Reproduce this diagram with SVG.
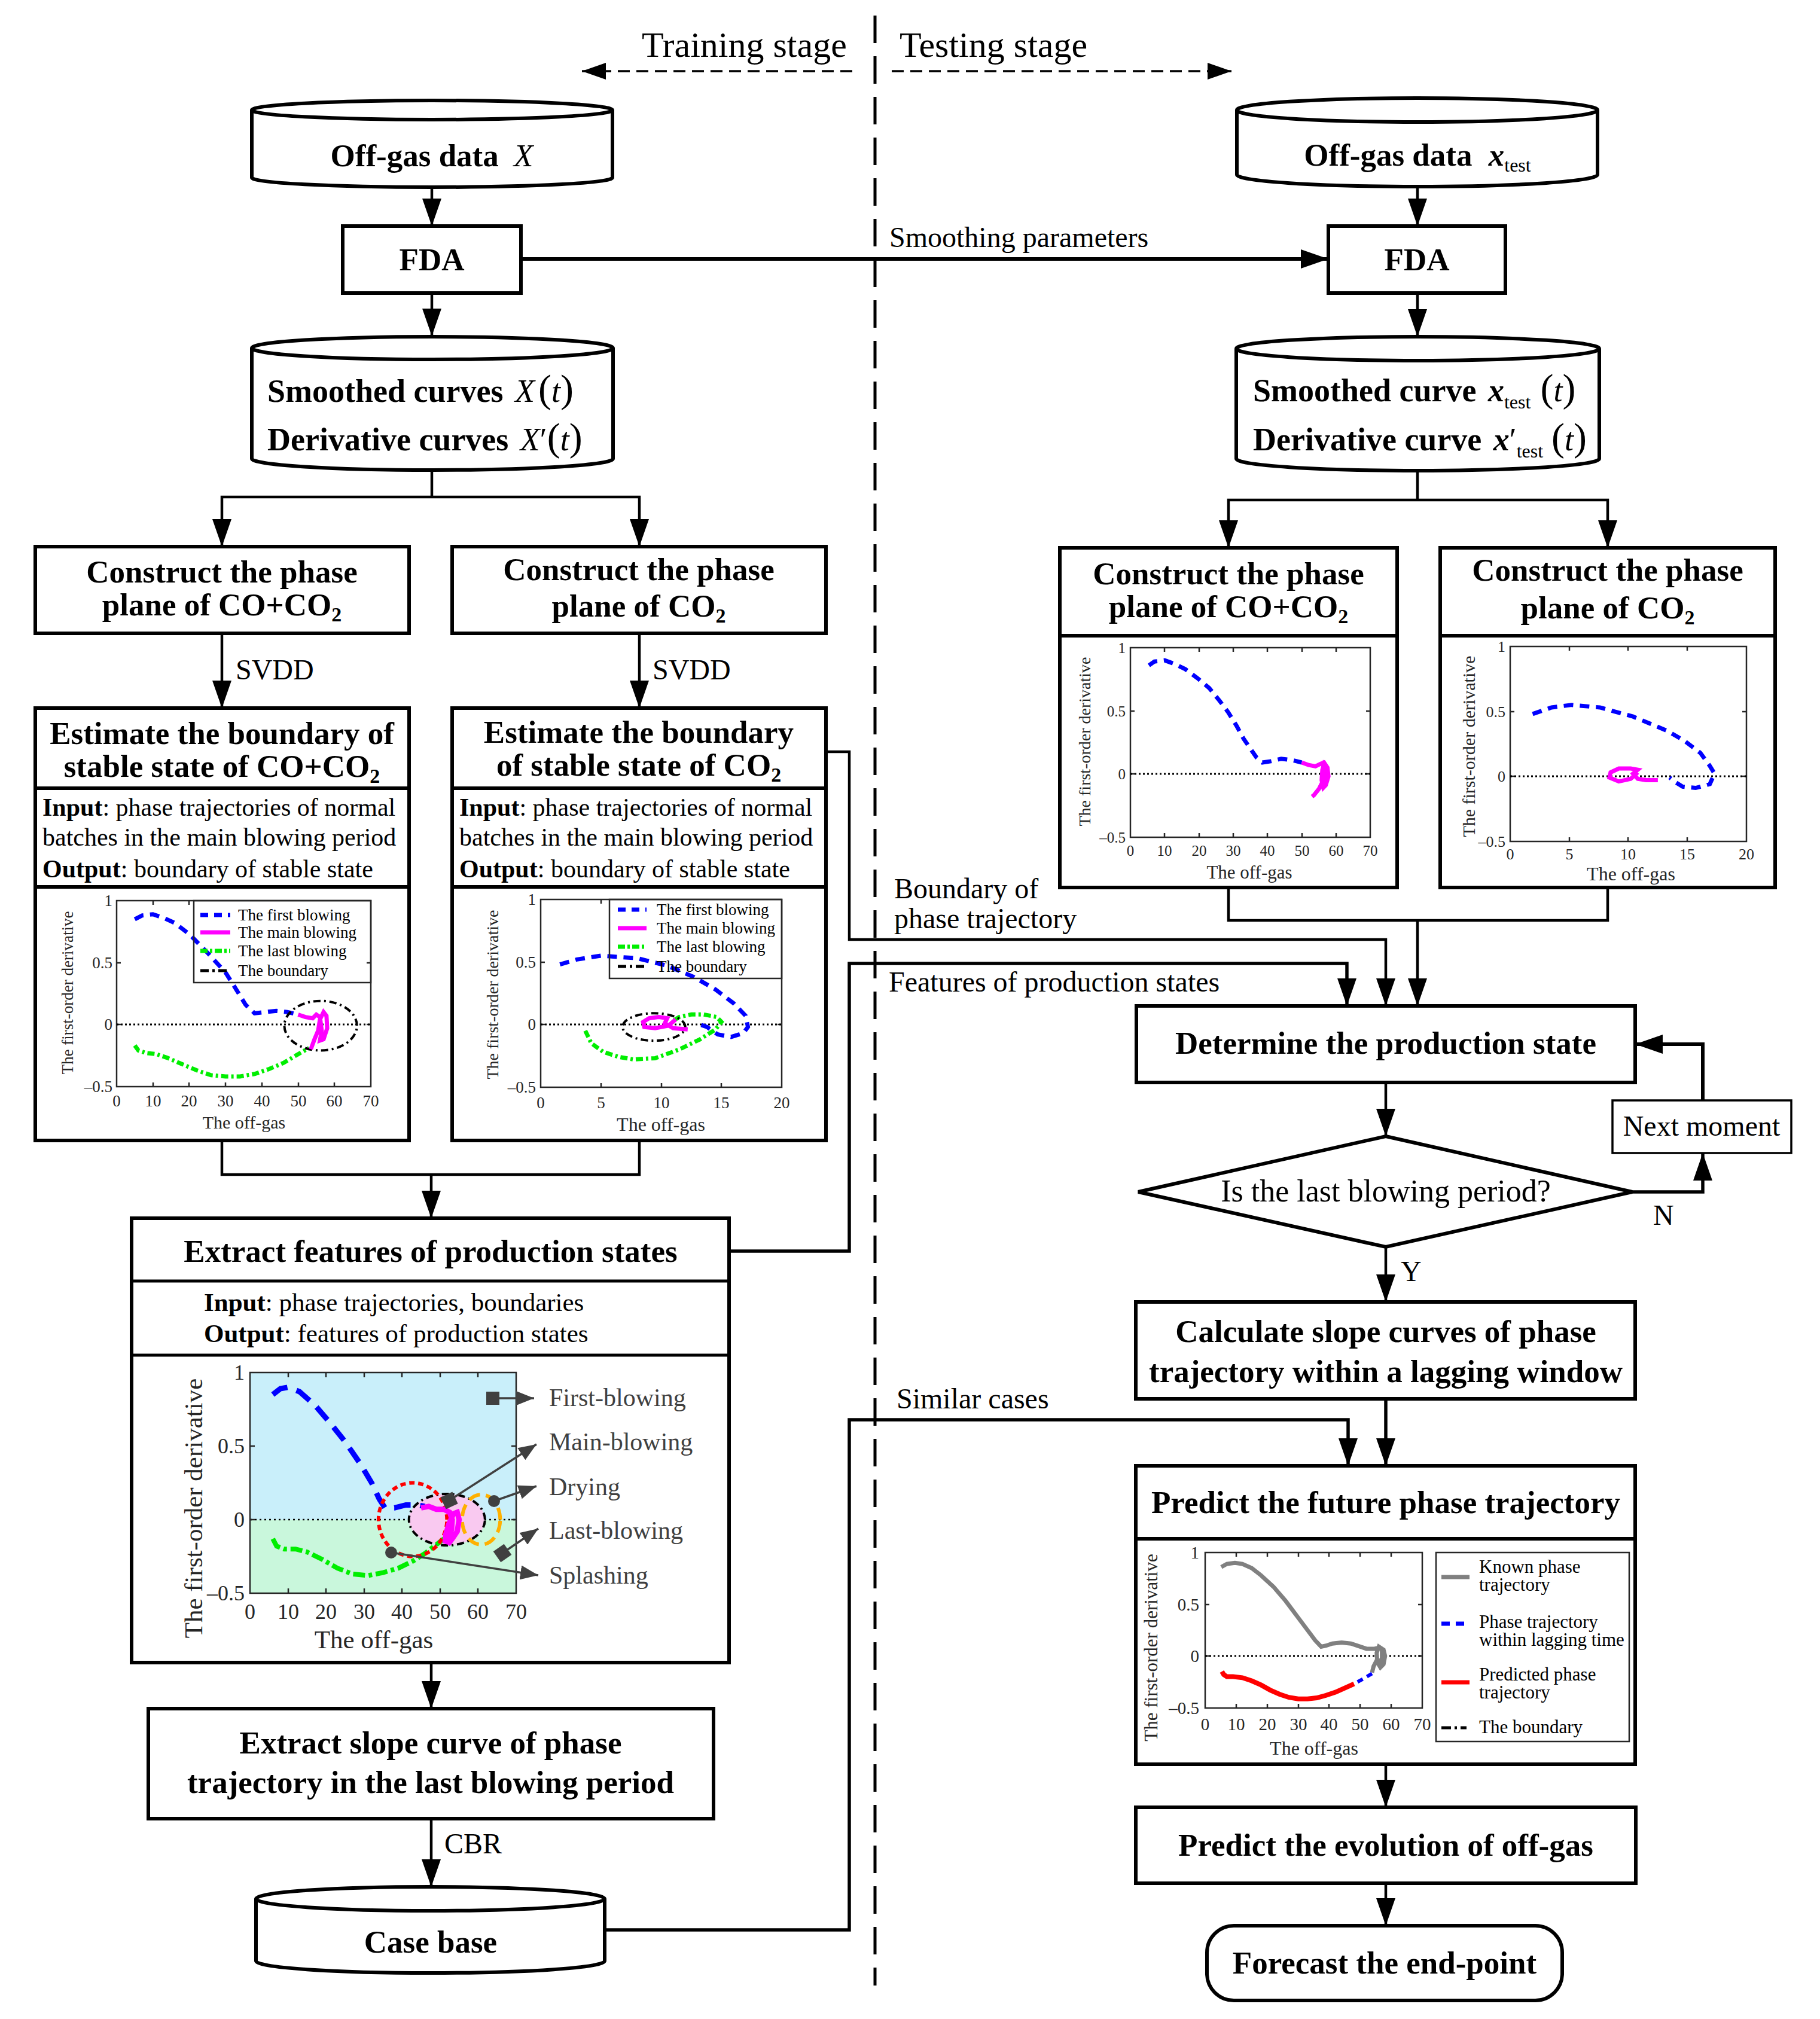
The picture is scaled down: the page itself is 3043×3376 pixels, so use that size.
<svg xmlns="http://www.w3.org/2000/svg" width="3043" height="3376" viewBox="0 0 3043 3376">
<style>
text{font-family:"Liberation Serif","Times New Roman",serif;fill:#000}
.nb{font-weight:bold;font-size:53px;text-anchor:middle}
.lb{font-size:48px}
.io{font-size:42px}
.box{fill:#fff;stroke:#000;stroke-width:6}
.cn{fill:none;stroke:#000;stroke-width:4.5}
.ax{fill:none;stroke:#262626;stroke-width:2.5}
.tk{fill:#262626;text-anchor:middle}
.tr{fill:#262626;text-anchor:end}
.zl{fill:none;stroke:#000;stroke-width:3;stroke-dasharray:3 4}
.plot *{vector-effect:non-scaling-stroke;fill:none}
.bl{stroke:#0000ff;stroke-width:7;stroke-dasharray:16 11}
.mg{stroke:#ff00ff;stroke-width:7}
.gr{stroke:#00ee00;stroke-width:7;stroke-dasharray:12 5 4 5}
.bd{stroke:#000;stroke-width:4;stroke-dasharray:12 6 3 6}
.ann{fill:none;stroke:#404040;stroke-width:3.5}
.at{font-size:42px;fill:#404040}
</style>
<defs>
<marker id="ah" markerUnits="userSpaceOnUse" markerWidth="46" markerHeight="32" refX="46" refY="16" orient="auto-start-reverse"><path d="M0,0 L46,16 L0,32 Z" fill="#000"/></marker>
<marker id="ahs" markerUnits="userSpaceOnUse" markerWidth="40" markerHeight="28" refX="40" refY="14" orient="auto"><path d="M0,0 L40,14 L0,28 Z" fill="#000"/></marker>
<marker id="ahg" markerUnits="userSpaceOnUse" markerWidth="30" markerHeight="24" refX="30" refY="12" orient="auto"><path d="M0,0 L30,12 L0,24 Z" fill="#404040"/></marker>
</defs>

<g id="stages">
<line x1="1463" y1="26" x2="1463" y2="3320" stroke="#000" stroke-width="5" stroke-dasharray="46 22"/>
<text x="1073" y="95" font-size="60">Training stage</text>
<text x="1504" y="95" font-size="60">Testing stage</text>
<line x1="1425" y1="119" x2="973" y2="119" stroke="#000" stroke-width="3.5" stroke-dasharray="20 11" marker-end="url(#ahs)"/>
<line x1="1491" y1="119" x2="2059" y2="119" stroke="#000" stroke-width="3.5" stroke-dasharray="20 11" marker-end="url(#ahs)"/>
</g>

<g id="connectors" class="cn">
<path d="M722,313V378" marker-end="url(#ah)"/>
<path d="M722,490V562" marker-end="url(#ah)"/>
<path d="M722,785V831"/>
<path d="M371,914V831H1069V914" marker-start="url(#ah)" marker-end="url(#ah)"/>
<path d="M371,1059V1184" marker-end="url(#ah)"/>
<path d="M1069,1059V1184" marker-end="url(#ah)"/>
<path d="M371,1907V1964H1069V1907"/>
<path d="M721,1964V2037" marker-end="url(#ah)"/>
<path d="M721,2780V2857" marker-end="url(#ah)"/>
<path d="M721,3041V3155" marker-end="url(#ah)"/>
<path d="M871,433H2221" stroke-width="6" marker-end="url(#ah)"/>
<path d="M2370,312V378" marker-end="url(#ah)"/>
<path d="M2370,490V563" marker-end="url(#ah)"/>
<path d="M2370,787V836"/>
<path d="M2054,916V836H2688V916" marker-start="url(#ah)" marker-end="url(#ah)"/>
<path d="M2054,1484V1539H2688V1484"/>
<path d="M2370,1539V1682" marker-end="url(#ah)"/>
<path d="M1381,1257H1420V1571H2317V1682" marker-end="url(#ah)"/>
<path d="M1219,2092H1420V1611H2252V1682" stroke-width="5.5" marker-end="url(#ah)"/>
<path d="M2317,1810V1900" marker-end="url(#ah)"/>
<path d="M2729,1993H2847V1928" stroke-width="5.5" marker-end="url(#ah)"/>
<path d="M2847,1840V1746H2734" stroke-width="6" marker-end="url(#ah)"/>
<path d="M2317,2085V2177" marker-end="url(#ah)"/>
<path d="M2317,2339V2451" stroke-width="5.5" marker-end="url(#ah)"/>
<path d="M1011,3227H1420V2374H2254V2451" stroke-width="5.5" marker-end="url(#ah)"/>
<path d="M2317,2950V3022" marker-end="url(#ah)"/>
<path d="M2317,3149V3220" marker-end="url(#ah)"/>
</g>

<g id="connector-labels">
<text x="1487" y="413" class="lb">Smoothing parameters</text>
<text x="394" y="1136" class="lb">SVDD</text>
<text x="1091" y="1136" class="lb">SVDD</text>
<text x="743" y="3099" class="lb">CBR</text>
<text x="1495" y="1502" class="lb">Boundary of</text>
<text x="1495" y="1552" class="lb">phase trajectory</text>
<text x="1486" y="1658" class="lb">Features of production states</text>
<text x="1499" y="2355" class="lb">Similar cases</text>
<text x="2764" y="2048" class="lb">N</text>
<text x="2342" y="2142" class="lb">Y</text>
</g>

<g id="offgas-train">
<path d="M421,184 A301.5,16 0 0 1 1024,184 V297 A301.5,16 0 0 1 421,297 Z" class="box"/>
<path d="M421,184 A301.5,16 0 0 0 1024,184" fill="none" stroke="#000" stroke-width="6"/>
<text x="722" y="278" class="nb" font-size="54">Off-gas data <tspan dx="12" font-style="italic" font-weight="normal">X</tspan></text>
</g>
<g id="fda-train">
<rect x="573" y="378" width="298" height="112" class="box"/>
<text x="722" y="452" class="nb" font-size="54">FDA</text>
</g>
<g id="smoothed-train">
<path d="M421,582 A302,19 0 0 1 1025,582 V767 A302,19 0 0 1 421,767 Z" class="box"/>
<path d="M421,582 A302,19 0 0 0 1025,582" fill="none" stroke="#000" stroke-width="6"/>
<text x="447" y="672" font-weight="bold" font-size="54">Smoothed curves <tspan font-style="italic" font-weight="normal" dx="6">X</tspan><tspan font-weight="normal" font-size="66" dx="6">(</tspan><tspan font-style="italic" font-weight="normal">t</tspan><tspan font-weight="normal" font-size="66">)</tspan></text>
<text x="447" y="753" font-weight="bold" font-size="54">Derivative curves <tspan font-style="italic" font-weight="normal" dx="6">X</tspan><tspan font-weight="normal">′</tspan><tspan font-weight="normal" font-size="66">(</tspan><tspan font-style="italic" font-weight="normal">t</tspan><tspan font-weight="normal" font-size="66">)</tspan></text>
</g>
<g id="construct-cc-train">
<rect x="59" y="914" width="625" height="145" class="box"/>
<text x="371" y="974" class="nb">Construct the phase</text>
<text x="371" y="1029" class="nb">plane of CO+CO<tspan font-size="34" dy="10">2</tspan></text>
</g>
<g id="construct-c2-train">
<rect x="756" y="914" width="625" height="145" class="box"/>
<text x="1068" y="970" class="nb">Construct the phase</text>
<text x="1068" y="1031" class="nb">plane of CO<tspan font-size="34" dy="10">2</tspan></text>
</g>

<g id="estimate-cc">
<rect x="59" y="1184" width="625" height="723" class="box"/>
<path d="M59,1318H684M59,1483H684" stroke="#000" stroke-width="6"/>
<text x="371" y="1244" class="nb">Estimate the boundary of</text>
<text x="371" y="1299" class="nb">stable state of CO+CO<tspan font-size="34" dy="10">2</tspan></text>
<text x="71" y="1364" class="io"><tspan font-weight="bold">Input</tspan>: phase trajectories of normal</text>
<text x="71" y="1414" class="io">batches in the main blowing period</text>
<text x="71" y="1467" class="io"><tspan font-weight="bold">Output</tspan>: boundary of stable state</text>
<g id="chartA">
<rect x="195" y="1506" width="425" height="311" fill="#fff" class="ax"/>
<path d="M256,1817v-7M316,1817v-7M377,1817v-7M438,1817v-7M499,1817v-7M559,1817v-7M256,1506v7M316,1506v7M195,1610h7M195,1713h7M620,1610h-7M620,1713h-7" class="ax"/>
<line x1="195" y1="1713" x2="620" y2="1713" class="zl"/>
<g class="plot" transform="translate(195,1713) scale(6.07,-207)">
<polyline class="bl" points="5,0.85 7,0.88 10,0.89 13,0.86 16,0.82 20,0.73 25,0.58 30,0.42 33,0.28 35.5,0.16 38,0.09 41,0.1 44,0.11 47,0.1 50,0.08"/>
<polyline class="gr" points="5,-0.17 6,-0.21 8,-0.23 11,-0.24 14,-0.27 18,-0.32 22,-0.37 26,-0.41 30,-0.42 34,-0.42 38,-0.4 42,-0.36 46,-0.31 50,-0.24 53,-0.19"/>
<ellipse class="bd" cx="56.2" cy="-0.01" rx="10" ry="0.2"/>
<polyline class="mg" points="50,0.08 52,0.06 54,0.05 55,0.08 56,0.06 56.5,-0.05 56,-0.13 57,-0.12 58,-0.03 57.8,0.07 57,0.1 56,0.04 55.5,-0.05 54.5,-0.12 53.5,-0.2"/>
</g>
<rect x="324" y="1506" width="296" height="137" fill="#fff" class="ax"/>
<line x1="335" y1="1530" x2="385" y2="1530" stroke="#00f" stroke-width="7" stroke-dasharray="13 10"/>
<line x1="335" y1="1559" x2="385" y2="1559" stroke="#f0f" stroke-width="7"/>
<line x1="335" y1="1590" x2="385" y2="1590" stroke="#0e0" stroke-width="7" stroke-dasharray="12 4 4 4"/>
<line x1="335" y1="1623" x2="385" y2="1623" stroke="#000" stroke-width="5" stroke-dasharray="14 6 4 6"/>
<g font-size="27"><text x="398" y="1539">The first blowing</text><text x="398" y="1568">The main blowing</text><text x="398" y="1599">The last blowing</text><text x="398" y="1632">The boundary</text></g>
<g font-size="27"><text x="195" y="1850" class="tk">0</text><text x="256" y="1850" class="tk">10</text><text x="316" y="1850" class="tk">20</text><text x="377" y="1850" class="tk">30</text><text x="438" y="1850" class="tk">40</text><text x="499" y="1850" class="tk">50</text><text x="559" y="1850" class="tk">60</text><text x="620" y="1850" class="tk">70</text></g>
<g font-size="27"><text x="188" y="1515" class="tr">1</text><text x="188" y="1619" class="tr">0.5</text><text x="188" y="1722" class="tr">0</text><text x="188" y="1826" class="tr">–0.5</text></g>
<text x="408" y="1887" font-size="30" class="tk">The off-gas</text>
<text x="122" y="1660" font-size="27" class="tk" transform="rotate(-90 122 1660)">The first-order derivative</text>
</g>
</g>

<g id="estimate-c2">
<rect x="756" y="1184" width="625" height="723" class="box"/>
<path d="M756,1318H1381M756,1483H1381" stroke="#000" stroke-width="6"/>
<text x="1068" y="1242" class="nb">Estimate the boundary</text>
<text x="1068" y="1297" class="nb">of stable state of CO<tspan font-size="34" dy="10">2</tspan></text>
<text x="768" y="1364" class="io"><tspan font-weight="bold">Input</tspan>: phase trajectories of normal</text>
<text x="768" y="1414" class="io">batches in the main blowing period</text>
<text x="768" y="1467" class="io"><tspan font-weight="bold">Output</tspan>: boundary of stable state</text>
<g id="chartB">
<rect x="904" y="1504" width="403" height="314" fill="#fff" class="ax"/>
<path d="M1005,1818v-7M1106,1818v-7M1206,1818v-7M1005,1504v7M904,1609h7M904,1713h7M1307,1713h-7" class="ax"/>
<line x1="904" y1="1713" x2="1307" y2="1713" class="zl"/>
<g class="plot" transform="translate(904,1713) scale(20.15,-209)">
<polyline class="bl" points="1.6,0.48 3,0.52 5,0.55 8,0.53 10.5,0.47 12.7,0.38 14.5,0.28 16,0.17 17,0.07 17.2,-0.02 16.8,-0.07 15.8,-0.1 14.7,-0.08 13.8,-0.02 13.2,0"/>
<polyline class="gr" points="3.7,-0.05 4.2,-0.15 5.2,-0.22 6.5,-0.26 7.7,-0.28 9.5,-0.27 11.5,-0.2 13.2,-0.12 14.5,-0.04 15,0.02 14.6,0.06 13.5,0.08 12.5,0.08 11.5,0.06 11,0.03"/>
<ellipse class="bd" cx="9.4" cy="-0.02" rx="2.6" ry="0.11"/>
<polyline class="mg" points="12.2,-0.04 11,-0.03 10.3,0.01 10.5,0.05 9.8,0.06 9,0.05 8.5,0.02 8.6,-0.02 9.5,-0.03 10.6,-0.01 11.2,0.04"/>
</g>
<rect x="1019" y="1504" width="288" height="132" fill="#fff" class="ax"/>
<line x1="1033" y1="1521" x2="1081" y2="1521" stroke="#00f" stroke-width="7" stroke-dasharray="13 10"/>
<line x1="1033" y1="1552" x2="1081" y2="1552" stroke="#f0f" stroke-width="7"/>
<line x1="1033" y1="1583" x2="1081" y2="1583" stroke="#0e0" stroke-width="7" stroke-dasharray="12 4 4 4"/>
<line x1="1033" y1="1616" x2="1081" y2="1616" stroke="#000" stroke-width="5" stroke-dasharray="14 6 4 6"/>
<g font-size="27"><text x="1098" y="1530">The first blowing</text><text x="1098" y="1561">The main blowing</text><text x="1098" y="1592">The last blowing</text><text x="1098" y="1625">The boundary</text></g>
<g font-size="27"><text x="904" y="1853" class="tk">0</text><text x="1005" y="1853" class="tk">5</text><text x="1106" y="1853" class="tk">10</text><text x="1206" y="1853" class="tk">15</text><text x="1307" y="1853" class="tk">20</text></g>
<g font-size="27"><text x="896" y="1513" class="tr">1</text><text x="896" y="1618" class="tr">0.5</text><text x="896" y="1722" class="tr">0</text><text x="896" y="1827" class="tr">–0.5</text></g>
<text x="1105" y="1891" font-size="32" class="tk">The off-gas</text>
<text x="833" y="1663" font-size="28" class="tk" transform="rotate(-90 833 1663)">The first-order derivative</text>
</g>
</g>

<g id="extract-features">
<rect x="220" y="2037" width="999" height="743" class="box"/>
<path d="M220,2142H1219M220,2266H1219" stroke="#000" stroke-width="5"/>
<text x="720" y="2110" class="nb">Extract features of production states</text>
<text x="341" y="2192" font-size="43"><tspan font-weight="bold">Input</tspan>: phase trajectories, boundaries</text>
<text x="341" y="2244" font-size="43"><tspan font-weight="bold">Output</tspan>: features of production states</text>
<g id="chartC">
<rect x="418" y="2295" width="445" height="246" fill="#c9effa"/>
<rect x="418" y="2541" width="445" height="123" fill="#c9f7dc"/>
<line x1="418" y1="2541" x2="863" y2="2541" stroke="#000" stroke-width="2.5" stroke-dasharray="3 5"/>
<g class="plot" transform="translate(418,2541) scale(6.357,-246)">
<ellipse cx="51.8" cy="0" rx="10" ry="0.175" style="fill:#f9c9f0" stroke="#000" stroke-width="4" stroke-dasharray="12 6 3 6"/>
<polyline points="6,0.85 8,0.89 10,0.9 13,0.87 17,0.78 21,0.66 25,0.53 29,0.38 32,0.25 34,0.14 35.5,0.08 38,0.08 41,0.1 44,0.1 46,0.09" stroke="#0000ff" stroke-width="9" stroke-dasharray="28 16"/>
<polyline points="6,-0.13 7,-0.18 9,-0.2 12,-0.2 15,-0.22 19,-0.27 23,-0.33 27,-0.37 31,-0.38 35,-0.36 39,-0.33 43,-0.28 46,-0.23 49,-0.17 51,-0.13" stroke="#00ee00" stroke-width="8" stroke-dasharray="20 6 6 6"/>
<ellipse cx="42.8" cy="0" rx="9" ry="0.25" stroke="#ff0000" stroke-width="6" stroke-dasharray="9 6"/>
<ellipse cx="60.8" cy="0" rx="5" ry="0.17" stroke="#ffb000" stroke-width="6" stroke-dasharray="20 10"/>
<polyline points="45,0.08 47,0.09 49,0.07 51,0.07 52.5,0.05 53.2,0 53,-0.07 52,-0.13 51.3,-0.16 51.5,-0.1 52.3,-0.03 53.5,0.04 54.5,0.05 55,0 54.5,-0.08 53.2,-0.13 52,-0.17" stroke="#ff00ff" stroke-width="9"/>
</g>
<rect x="418" y="2295" width="445" height="369" class="ax"/>
<path d="M482,2664v-8M545,2664v-8M609,2664v-8M672,2664v-8M736,2664v-8M799,2664v-8M482,2295v8M545,2295v8M609,2295v8M672,2295v8M736,2295v8M799,2295v8M418,2418h8M418,2541h8M863,2418h-8M863,2541h-8" class="ax"/>
<g font-size="36"><text x="418" y="2707" class="tk">0</text><text x="482" y="2707" class="tk">10</text><text x="545" y="2707" class="tk">20</text><text x="609" y="2707" class="tk">30</text><text x="672" y="2707" class="tk">40</text><text x="736" y="2707" class="tk">50</text><text x="799" y="2707" class="tk">60</text><text x="863" y="2707" class="tk">70</text></g>
<g font-size="36"><text x="409" y="2307" class="tr">1</text><text x="409" y="2430" class="tr">0.5</text><text x="409" y="2553" class="tr">0</text><text x="409" y="2676" class="tr">–0.5</text></g>
<text x="625" y="2756" font-size="43" class="tk">The off-gas</text>
<text x="338" y="2522" font-size="43" class="tk" transform="rotate(-90 338 2522)">The first-order derivative</text>
<rect x="813" y="2327" width="22" height="22" fill="#404040"/>
<line x1="835" y1="2338" x2="893" y2="2338" class="ann" marker-end="url(#ahg)"/>
<rect x="740" y="2498" width="22" height="22" fill="#404040" transform="rotate(-25 751 2509)"/>
<line x1="751" y1="2509" x2="897" y2="2415" class="ann" marker-end="url(#ahg)"/>
<circle cx="826" cy="2510" r="10" fill="#404040"/>
<line x1="826" y1="2510" x2="897" y2="2485" class="ann" marker-end="url(#ahg)"/>
<rect x="829" y="2586" width="22" height="22" fill="#404040" transform="rotate(-35 840 2597)"/>
<line x1="840" y1="2597" x2="900" y2="2556" class="ann" marker-end="url(#ahg)"/>
<circle cx="654" cy="2596" r="10" fill="#404040"/>
<line x1="654" y1="2596" x2="900" y2="2634" class="ann" marker-end="url(#ahg)"/>
<text x="918" y="2351" class="at">First-blowing</text>
<text x="918" y="2425" class="at">Main-blowing</text>
<text x="918" y="2500" class="at">Drying</text>
<text x="918" y="2573" class="at">Last-blowing</text>
<text x="918" y="2648" class="at">Splashing</text>
</g>
</g>

<g id="extract-slope">
<rect x="248" y="2857" width="945" height="184" class="box"/>
<text x="720" y="2932" class="nb">Extract slope curve of phase</text>
<text x="720" y="2998" class="nb">trajectory in the last blowing period</text>
</g>
<g id="case-base">
<path d="M428,3175 A291.5,20 0 0 1 1011,3175 V3279 A291.5,20 0 0 1 428,3279 Z" class="box"/>
<path d="M428,3175 A291.5,20 0 0 0 1011,3175" fill="none" stroke="#000" stroke-width="6"/>
<text x="720" y="3265" class="nb">Case base</text>
</g>

<g id="offgas-test">
<path d="M2068,184 A301.5,20 0 0 1 2671,184 V292 A301.5,20 0 0 1 2068,292 Z" class="box"/>
<path d="M2068,184 A301.5,20 0 0 0 2671,184" fill="none" stroke="#000" stroke-width="6"/>
<text x="2370" y="277" class="nb" font-size="54">Off-gas data <tspan dx="14" font-style="italic">x</tspan><tspan font-weight="normal" font-size="32" dy="10">test</tspan></text>
</g>
<g id="fda-test">
<rect x="2221" y="378" width="296" height="112" class="box"/>
<text x="2369" y="452" class="nb" font-size="54">FDA</text>
</g>
<g id="smoothed-test">
<path d="M2067,583 A303.5,20 0 0 1 2674,583 V767 A303.5,20 0 0 1 2067,767 Z" class="box"/>
<path d="M2067,583 A303.5,20 0 0 0 2674,583" fill="none" stroke="#000" stroke-width="6"/>
<text x="2095" y="671" font-weight="bold" font-size="54">Smoothed curve <tspan font-style="italic" dx="6">x</tspan><tspan font-weight="normal" font-size="32" dy="12">test</tspan><tspan font-weight="normal" font-size="66" dy="-12" dx="16">(</tspan><tspan font-weight="normal" font-style="italic">t</tspan><tspan font-weight="normal" font-size="66">)</tspan></text>
<text x="2095" y="753" font-weight="bold" font-size="54">Derivative curve <tspan font-style="italic" dx="6">x</tspan><tspan font-weight="normal">′</tspan><tspan font-weight="normal" font-size="32" dy="12">test</tspan><tspan font-weight="normal" font-size="66" dy="-12" dx="14">(</tspan><tspan font-weight="normal" font-style="italic">t</tspan><tspan font-weight="normal" font-size="66">)</tspan></text>
</g>

<g id="construct-cc-test">
<rect x="1772" y="916" width="564" height="568" class="box"/>
<path d="M1772,1063H2336" stroke="#000" stroke-width="6"/>
<text x="2054" y="977" class="nb">Construct the phase</text>
<text x="2054" y="1032" class="nb">plane of CO+CO<tspan font-size="34" dy="10">2</tspan></text>
<g id="chartD">
<rect x="1890" y="1083" width="401" height="317" fill="#fff" class="ax"/>
<path d="M1947,1400v-7M2005,1400v-7M2062,1400v-7M2119,1400v-7M2177,1400v-7M2234,1400v-7M1947,1083v7M2005,1083v7M2062,1083v7M2119,1083v7M2177,1083v7M2234,1083v7M1890,1189h7M1890,1294h7M2291,1189h-7M2291,1294h-7" class="ax"/>
<line x1="1890" y1="1294" x2="2291" y2="1294" class="zl"/>
<g class="plot" transform="translate(1890,1294) scale(5.73,-211)">
<polyline class="bl" points="5.4,0.86 7,0.89 10,0.9 13,0.87 16,0.83 19.5,0.76 23,0.68 26,0.58 28.5,0.49 31,0.38 33,0.28 35,0.2 36.8,0.13 38.5,0.09 41,0.1 44,0.12 47,0.11 50,0.09"/>
<polyline class="mg" points="50,0.09 52,0.07 54,0.06 55.5,0.08 56.5,0.09 57.5,0.05 57.8,-0.02 57,-0.09 56.3,-0.11 55.8,-0.05 56,0.03 56.5,0.08 57.2,0.06 56.5,-0.04 55,-0.12 53.5,-0.17 53,-0.18"/>
</g>
<g font-size="25"><text x="1890" y="1431" class="tk">0</text><text x="1947" y="1431" class="tk">10</text><text x="2005" y="1431" class="tk">20</text><text x="2062" y="1431" class="tk">30</text><text x="2119" y="1431" class="tk">40</text><text x="2177" y="1431" class="tk">50</text><text x="2234" y="1431" class="tk">60</text><text x="2291" y="1431" class="tk">70</text></g>
<g font-size="25"><text x="1882" y="1092" class="tr">1</text><text x="1882" y="1198" class="tr">0.5</text><text x="1882" y="1303" class="tr">0</text><text x="1882" y="1409" class="tr">–0.5</text></g>
<text x="2089" y="1469" font-size="31" class="tk">The off-gas</text>
<text x="1823" y="1240" font-size="28" class="tk" transform="rotate(-90 1823 1240)">The first-order derivative</text>
</g>
</g>

<g id="construct-c2-test">
<rect x="2408" y="916" width="560" height="568" class="box"/>
<path d="M2408,1063H2968" stroke="#000" stroke-width="6"/>
<text x="2688" y="971" class="nb">Construct the phase</text>
<text x="2688" y="1034" class="nb">plane of CO<tspan font-size="34" dy="10">2</tspan></text>
<g id="chartE">
<rect x="2525" y="1081" width="395" height="326" fill="#fff" class="ax"/>
<path d="M2624,1407v-7M2722,1407v-7M2821,1407v-7M2624,1081v7M2722,1081v7M2821,1081v7M2525,1190h7M2525,1298h7M2920,1190h-7M2920,1298h-7" class="ax"/>
<line x1="2525" y1="1298" x2="2920" y2="1298" class="zl"/>
<g class="plot" transform="translate(2525,1298) scale(19.75,-217)">
<polyline class="bl" points="1.9,0.48 3.5,0.53 5.2,0.55 7.6,0.53 10.4,0.46 13.3,0.35 14.8,0.27 16.1,0.18 16.9,0.08 17.3,0.02 16.9,-0.06 15.7,-0.09 14.6,-0.08 13.9,-0.04 13.5,-0.01"/>
<polyline class="mg" points="12.5,-0.03 11.5,-0.03 10.8,-0.02 10.4,0.02 10.8,0.05 10.2,0.06 9.2,0.06 8.5,0.03 8.4,-0.01 9.2,-0.04 10.2,-0.02 10.8,0.03"/>
</g>
<g font-size="26"><text x="2525" y="1437" class="tk">0</text><text x="2624" y="1437" class="tk">5</text><text x="2722" y="1437" class="tk">10</text><text x="2821" y="1437" class="tk">15</text><text x="2920" y="1437" class="tk">20</text></g>
<g font-size="26"><text x="2517" y="1090" class="tr">1</text><text x="2517" y="1199" class="tr">0.5</text><text x="2517" y="1307" class="tr">0</text><text x="2517" y="1416" class="tr">–0.5</text></g>
<text x="2727" y="1472" font-size="32" class="tk">The off-gas</text>
<text x="2466" y="1248" font-size="30" class="tk" transform="rotate(-90 2466 1248)">The first-order derivative</text>
</g>
</g>

<g id="determine">
<rect x="1900" y="1682" width="834" height="128" class="box"/>
<text x="2317" y="1762" class="nb">Determine the production state</text>
</g>
<g id="decision">
<polygon points="2317,1900 2729,1993 2317,2085 1903,1993" class="box"/>
<text x="2317" y="2009" font-size="52" text-anchor="middle">Is the last blowing period?</text>
</g>
<g id="next-moment">
<rect x="2696" y="1840" width="299" height="88" fill="#fff" stroke="#000" stroke-width="3.5"/>
<text x="2845" y="1899" font-size="48" text-anchor="middle">Next moment</text>
</g>
<g id="calculate">
<rect x="1899" y="2177" width="835" height="162" class="box"/>
<text x="2317" y="2244" class="nb">Calculate slope curves of phase</text>
<text x="2317" y="2311" class="nb">trajectory within a lagging window</text>
</g>

<g id="predict-trajectory">
<rect x="1899" y="2451" width="835" height="499" class="box"/>
<path d="M1899,2573H2734" stroke="#000" stroke-width="6"/>
<text x="2317" y="2530" class="nb">Predict the future phase trajectory</text>
<g id="chartF">
<rect x="2015" y="2596" width="363" height="260" fill="#fff" class="ax"/>
<path d="M2067,2856v-7M2119,2856v-7M2171,2856v-7M2222,2856v-7M2274,2856v-7M2326,2856v-7M2067,2596v7M2119,2596v7M2171,2596v7M2222,2596v7M2274,2596v7M2326,2596v7M2015,2683h7M2015,2769h7M2378,2683h-7M2378,2769h-7" class="ax"/>
<line x1="2015" y1="2769" x2="2378" y2="2769" class="zl"/>
<g class="plot" transform="translate(2015,2769) scale(5.186,-173)">
<polyline stroke="#808080" stroke-width="7" points="5.2,0.86 7,0.89 9.6,0.9 12,0.89 15,0.85 18,0.78 22,0.67 26,0.53 30,0.37 33,0.25 35.5,0.15 37.4,0.09 39,0.1 41,0.12 44,0.13 47,0.12 50,0.09 52,0.07 54.6,0.07 56,0.08 57.5,0.06 58,0 57.5,-0.08 56.5,-0.11 55.5,-0.06 55.3,0.03 56,0.09 57,0.07 57,-0.02 56,-0.08 55,-0.06 54.3,-0.1 53.8,-0.16"/>
<polyline stroke="#0000ff" stroke-width="6" stroke-dasharray="10 8" points="53.8,-0.17 51,-0.22 48,-0.27"/>
<polyline stroke="#ff0000" stroke-width="8" points="48,-0.27 45,-0.31 42,-0.35 39,-0.38 36,-0.405 33,-0.415 30,-0.415 27,-0.4 24,-0.37 21,-0.33 18,-0.28 15,-0.24 12,-0.21 9,-0.2 7,-0.2 6,-0.18 5.4,-0.15"/>
</g>
<g font-size="29"><text x="2015" y="2893" class="tk">0</text><text x="2067" y="2893" class="tk">10</text><text x="2119" y="2893" class="tk">20</text><text x="2171" y="2893" class="tk">30</text><text x="2222" y="2893" class="tk">40</text><text x="2274" y="2893" class="tk">50</text><text x="2326" y="2893" class="tk">60</text><text x="2378" y="2893" class="tk">70</text></g>
<g font-size="29"><text x="2005" y="2606" class="tr">1</text><text x="2005" y="2693" class="tr">0.5</text><text x="2005" y="2779" class="tr">0</text><text x="2005" y="2866" class="tr">–0.5</text></g>
<text x="2197" y="2934" font-size="32" class="tk">The off-gas</text>
<text x="1935" y="2755" font-size="31" class="tk" transform="rotate(-90 1935 2755)">The first-order derivative</text>
<rect x="2401" y="2596" width="323" height="316" fill="#fff" class="ax"/>
<line x1="2410" y1="2637" x2="2457" y2="2637" stroke="#808080" stroke-width="7"/>
<line x1="2410" y1="2715" x2="2457" y2="2715" stroke="#0000ff" stroke-width="7" stroke-dasharray="14 10"/>
<line x1="2410" y1="2813" x2="2457" y2="2813" stroke="#ff0000" stroke-width="7"/>
<line x1="2410" y1="2889" x2="2452" y2="2889" stroke="#000" stroke-width="5" stroke-dasharray="16 6 4 6"/>
<g font-size="31"><text x="2473" y="2630">Known phase</text><text x="2473" y="2660">trajectory</text><text x="2473" y="2722">Phase trajectory</text><text x="2473" y="2752">within lagging time</text><text x="2473" y="2810">Predicted phase</text><text x="2473" y="2840">trajectory</text><text x="2473" y="2898">The boundary</text></g>
</g>
</g>

<g id="predict-evolution">
<rect x="1899" y="3022" width="836" height="127" class="box"/>
<text x="2317" y="3103" class="nb">Predict the evolution of off-gas</text>
</g>
<g id="forecast">
<rect x="2018" y="3220" width="594" height="125" rx="45" ry="45" class="box"/>
<text x="2315" y="3300" class="nb">Forecast the end-point</text>
</g>
</svg>
